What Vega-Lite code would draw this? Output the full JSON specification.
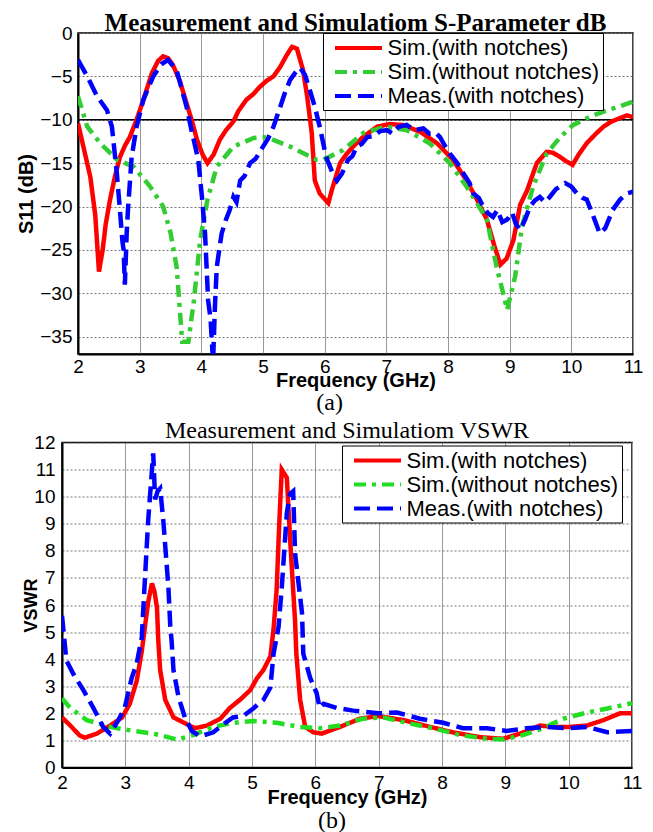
{
  "$schema": "https://vega.github.io/schema/vega-lite/v6.json",
  "padding": {"left": 15, "top": 10, "right": 0, "bottom": 0},
  "background": "white",
  "config": {
    "font": "Liberation Sans",
    "view": {"stroke": "black", "strokeWidth": 1.5},
    "axis": {
      "labelFont": "Liberation Sans", "labelFontSize": 19, "labelColor": "black",
      "titleFont": "Liberation Sans", "titleFontSize": 20, "titleFontWeight": "bold", "titleColor": "black",
      "domainColor": "black", "domainWidth": 2, "ticks": false,
      "gridColor": "#999999", "gridOpacity": 1, "gridWidth": 1, "labelFlush": false
    },
    "axisY": {"gridDash": [2, 2], "gridColor": "#777777"},
    "legend": {
      "orient": "none", "title": null,
      "labelFont": "Liberation Sans", "labelFontSize": 22, "labelColor": "black", "labelLimit": 400,
      "strokeColor": "black", "fillColor": "white", "padding": 3,
      "symbolType": "M-2.35,0H2.35", "symbolSize": 400, "symbolStrokeWidth": 4,
      "symbolOffset": 20.5, "labelOffset": 17, "rowPadding": 1
    }
  },
  "datasets": {
    "sparam": [
      {"s": "Sim.(with notches)", "f": 2.0, "v": -10.4},
      {"s": "Sim.(with notches)", "f": 2.1, "v": -13.5},
      {"s": "Sim.(with notches)", "f": 2.2, "v": -16.6},
      {"s": "Sim.(with notches)", "f": 2.28, "v": -21},
      {"s": "Sim.(with notches)", "f": 2.34, "v": -27.5},
      {"s": "Sim.(with notches)", "f": 2.4, "v": -25},
      {"s": "Sim.(with notches)", "f": 2.45, "v": -22},
      {"s": "Sim.(with notches)", "f": 2.52, "v": -19.2},
      {"s": "Sim.(with notches)", "f": 2.6, "v": -16.5},
      {"s": "Sim.(with notches)", "f": 2.68, "v": -14.3},
      {"s": "Sim.(with notches)", "f": 2.76, "v": -13},
      {"s": "Sim.(with notches)", "f": 2.84, "v": -12},
      {"s": "Sim.(with notches)", "f": 2.95, "v": -10},
      {"s": "Sim.(with notches)", "f": 3.06, "v": -7.7},
      {"s": "Sim.(with notches)", "f": 3.2, "v": -4.6},
      {"s": "Sim.(with notches)", "f": 3.3, "v": -3.2},
      {"s": "Sim.(with notches)", "f": 3.38, "v": -2.7},
      {"s": "Sim.(with notches)", "f": 3.46, "v": -2.9},
      {"s": "Sim.(with notches)", "f": 3.54, "v": -3.7},
      {"s": "Sim.(with notches)", "f": 3.65, "v": -5.5},
      {"s": "Sim.(with notches)", "f": 3.76, "v": -8.1},
      {"s": "Sim.(with notches)", "f": 3.85, "v": -10.2},
      {"s": "Sim.(with notches)", "f": 3.93, "v": -12.3},
      {"s": "Sim.(with notches)", "f": 4.02, "v": -14},
      {"s": "Sim.(with notches)", "f": 4.1, "v": -15},
      {"s": "Sim.(with notches)", "f": 4.2, "v": -14},
      {"s": "Sim.(with notches)", "f": 4.3, "v": -12.3},
      {"s": "Sim.(with notches)", "f": 4.4, "v": -11.2},
      {"s": "Sim.(with notches)", "f": 4.52, "v": -10.2},
      {"s": "Sim.(with notches)", "f": 4.6, "v": -9},
      {"s": "Sim.(with notches)", "f": 4.73, "v": -7.7},
      {"s": "Sim.(with notches)", "f": 4.85, "v": -7},
      {"s": "Sim.(with notches)", "f": 4.95, "v": -6.2},
      {"s": "Sim.(with notches)", "f": 5.06, "v": -5.5},
      {"s": "Sim.(with notches)", "f": 5.17, "v": -5},
      {"s": "Sim.(with notches)", "f": 5.28, "v": -3.9},
      {"s": "Sim.(with notches)", "f": 5.38, "v": -2.6},
      {"s": "Sim.(with notches)", "f": 5.47, "v": -1.6},
      {"s": "Sim.(with notches)", "f": 5.55, "v": -1.8},
      {"s": "Sim.(with notches)", "f": 5.65, "v": -4.3},
      {"s": "Sim.(with notches)", "f": 5.72, "v": -7.5},
      {"s": "Sim.(with notches)", "f": 5.79, "v": -11.5},
      {"s": "Sim.(with notches)", "f": 5.84, "v": -17},
      {"s": "Sim.(with notches)", "f": 5.92, "v": -18.5},
      {"s": "Sim.(with notches)", "f": 6.06, "v": -19.6},
      {"s": "Sim.(with notches)", "f": 6.12, "v": -18},
      {"s": "Sim.(with notches)", "f": 6.25, "v": -15},
      {"s": "Sim.(with notches)", "f": 6.35, "v": -14},
      {"s": "Sim.(with notches)", "f": 6.46, "v": -13.1},
      {"s": "Sim.(with notches)", "f": 6.62, "v": -12},
      {"s": "Sim.(with notches)", "f": 6.85, "v": -10.8},
      {"s": "Sim.(with notches)", "f": 7.05, "v": -10.5},
      {"s": "Sim.(with notches)", "f": 7.27, "v": -10.6},
      {"s": "Sim.(with notches)", "f": 7.55, "v": -11.4},
      {"s": "Sim.(with notches)", "f": 7.82, "v": -12.7},
      {"s": "Sim.(with notches)", "f": 8.08, "v": -14.6},
      {"s": "Sim.(with notches)", "f": 8.3, "v": -17},
      {"s": "Sim.(with notches)", "f": 8.47, "v": -19.2},
      {"s": "Sim.(with notches)", "f": 8.63, "v": -21.5},
      {"s": "Sim.(with notches)", "f": 8.75, "v": -24.5},
      {"s": "Sim.(with notches)", "f": 8.85, "v": -26.7},
      {"s": "Sim.(with notches)", "f": 8.95, "v": -26},
      {"s": "Sim.(with notches)", "f": 9.06, "v": -23.9},
      {"s": "Sim.(with notches)", "f": 9.17, "v": -19.8},
      {"s": "Sim.(with notches)", "f": 9.28, "v": -18.2},
      {"s": "Sim.(with notches)", "f": 9.44, "v": -15},
      {"s": "Sim.(with notches)", "f": 9.6, "v": -13.7},
      {"s": "Sim.(with notches)", "f": 9.7, "v": -13.8},
      {"s": "Sim.(with notches)", "f": 9.82, "v": -14.3},
      {"s": "Sim.(with notches)", "f": 9.92, "v": -14.8},
      {"s": "Sim.(with notches)", "f": 10.02, "v": -15.2},
      {"s": "Sim.(with notches)", "f": 10.12, "v": -14},
      {"s": "Sim.(with notches)", "f": 10.25, "v": -12.7},
      {"s": "Sim.(with notches)", "f": 10.4, "v": -11.6},
      {"s": "Sim.(with notches)", "f": 10.52, "v": -10.8},
      {"s": "Sim.(with notches)", "f": 10.65, "v": -10.2},
      {"s": "Sim.(with notches)", "f": 10.79, "v": -9.8},
      {"s": "Sim.(with notches)", "f": 10.9, "v": -9.5},
      {"s": "Sim.(with notches)", "f": 11.0, "v": -9.7},
      {"s": "Sim.(without notches)", "f": 2.0, "v": -7.3},
      {"s": "Sim.(without notches)", "f": 2.15, "v": -10.8},
      {"s": "Sim.(without notches)", "f": 2.36, "v": -12.7},
      {"s": "Sim.(without notches)", "f": 2.63, "v": -14.6},
      {"s": "Sim.(without notches)", "f": 2.9, "v": -15.4},
      {"s": "Sim.(without notches)", "f": 3.17, "v": -17.7},
      {"s": "Sim.(without notches)", "f": 3.38, "v": -20},
      {"s": "Sim.(without notches)", "f": 3.5, "v": -23},
      {"s": "Sim.(without notches)", "f": 3.6, "v": -27},
      {"s": "Sim.(without notches)", "f": 3.69, "v": -35.6},
      {"s": "Sim.(without notches)", "f": 3.79, "v": -35.6},
      {"s": "Sim.(without notches)", "f": 3.88, "v": -30.8},
      {"s": "Sim.(without notches)", "f": 3.98, "v": -23.9},
      {"s": "Sim.(without notches)", "f": 4.1, "v": -19.2},
      {"s": "Sim.(without notches)", "f": 4.25, "v": -15.4},
      {"s": "Sim.(without notches)", "f": 4.52, "v": -13.1},
      {"s": "Sim.(without notches)", "f": 4.85, "v": -12.1},
      {"s": "Sim.(without notches)", "f": 5.06, "v": -12},
      {"s": "Sim.(without notches)", "f": 5.44, "v": -13.1},
      {"s": "Sim.(without notches)", "f": 5.87, "v": -14.6},
      {"s": "Sim.(without notches)", "f": 5.98, "v": -14.6},
      {"s": "Sim.(without notches)", "f": 6.3, "v": -13.5},
      {"s": "Sim.(without notches)", "f": 6.63, "v": -11.5},
      {"s": "Sim.(without notches)", "f": 7.0, "v": -10.8},
      {"s": "Sim.(without notches)", "f": 7.33, "v": -11.2},
      {"s": "Sim.(without notches)", "f": 7.7, "v": -12.7},
      {"s": "Sim.(without notches)", "f": 8.03, "v": -15},
      {"s": "Sim.(without notches)", "f": 8.3, "v": -17.7},
      {"s": "Sim.(without notches)", "f": 8.47, "v": -19.6},
      {"s": "Sim.(without notches)", "f": 8.63, "v": -21.5},
      {"s": "Sim.(without notches)", "f": 8.79, "v": -27},
      {"s": "Sim.(without notches)", "f": 8.96, "v": -31.9},
      {"s": "Sim.(without notches)", "f": 9.09, "v": -28},
      {"s": "Sim.(without notches)", "f": 9.2, "v": -22.3},
      {"s": "Sim.(without notches)", "f": 9.38, "v": -17.7},
      {"s": "Sim.(without notches)", "f": 9.6, "v": -13.9},
      {"s": "Sim.(without notches)", "f": 9.82, "v": -12},
      {"s": "Sim.(without notches)", "f": 10.03, "v": -10.6},
      {"s": "Sim.(without notches)", "f": 10.35, "v": -9.5},
      {"s": "Sim.(without notches)", "f": 10.68, "v": -8.7},
      {"s": "Sim.(without notches)", "f": 11.0, "v": -7.9},
      {"s": "Meas.(with notches)", "f": 2.0, "v": -3.1},
      {"s": "Meas.(with notches)", "f": 2.15, "v": -5},
      {"s": "Meas.(with notches)", "f": 2.31, "v": -7.3},
      {"s": "Meas.(with notches)", "f": 2.47, "v": -8.9},
      {"s": "Meas.(with notches)", "f": 2.55, "v": -10.8},
      {"s": "Meas.(with notches)", "f": 2.63, "v": -16.2},
      {"s": "Meas.(with notches)", "f": 2.68, "v": -20.4},
      {"s": "Meas.(with notches)", "f": 2.72, "v": -24},
      {"s": "Meas.(with notches)", "f": 2.74, "v": -25},
      {"s": "Meas.(with notches)", "f": 2.76, "v": -29},
      {"s": "Meas.(with notches)", "f": 2.79, "v": -23},
      {"s": "Meas.(with notches)", "f": 2.81, "v": -20.4},
      {"s": "Meas.(with notches)", "f": 2.87, "v": -14.3},
      {"s": "Meas.(with notches)", "f": 2.95, "v": -10.8},
      {"s": "Meas.(with notches)", "f": 3.06, "v": -7.7},
      {"s": "Meas.(with notches)", "f": 3.22, "v": -5},
      {"s": "Meas.(with notches)", "f": 3.35, "v": -3.6},
      {"s": "Meas.(with notches)", "f": 3.46, "v": -3.1},
      {"s": "Meas.(with notches)", "f": 3.6, "v": -4.3},
      {"s": "Meas.(with notches)", "f": 3.76, "v": -8.5},
      {"s": "Meas.(with notches)", "f": 3.84, "v": -11.2},
      {"s": "Meas.(with notches)", "f": 3.95, "v": -14.6},
      {"s": "Meas.(with notches)", "f": 4.01, "v": -18.9},
      {"s": "Meas.(with notches)", "f": 4.06, "v": -23.1},
      {"s": "Meas.(with notches)", "f": 4.11, "v": -30.8},
      {"s": "Meas.(with notches)", "f": 4.15, "v": -33},
      {"s": "Meas.(with notches)", "f": 4.19, "v": -38},
      {"s": "Meas.(with notches)", "f": 4.22, "v": -31.6},
      {"s": "Meas.(with notches)", "f": 4.25, "v": -27},
      {"s": "Meas.(with notches)", "f": 4.3, "v": -24.5},
      {"s": "Meas.(with notches)", "f": 4.33, "v": -23.1},
      {"s": "Meas.(with notches)", "f": 4.4, "v": -21.5},
      {"s": "Meas.(with notches)", "f": 4.46, "v": -20.4},
      {"s": "Meas.(with notches)", "f": 4.52, "v": -18.9},
      {"s": "Meas.(with notches)", "f": 4.57, "v": -19.5},
      {"s": "Meas.(with notches)", "f": 4.63, "v": -17},
      {"s": "Meas.(with notches)", "f": 4.7, "v": -16.5},
      {"s": "Meas.(with notches)", "f": 4.79, "v": -15},
      {"s": "Meas.(with notches)", "f": 4.88, "v": -14.5},
      {"s": "Meas.(with notches)", "f": 5.0, "v": -13.1},
      {"s": "Meas.(with notches)", "f": 5.08, "v": -12.2},
      {"s": "Meas.(with notches)", "f": 5.17, "v": -10.8},
      {"s": "Meas.(with notches)", "f": 5.28, "v": -8.5},
      {"s": "Meas.(with notches)", "f": 5.36, "v": -6.8},
      {"s": "Meas.(with notches)", "f": 5.44, "v": -5.4},
      {"s": "Meas.(with notches)", "f": 5.52, "v": -4.6},
      {"s": "Meas.(with notches)", "f": 5.6, "v": -4.0},
      {"s": "Meas.(with notches)", "f": 5.68, "v": -4.8},
      {"s": "Meas.(with notches)", "f": 5.76, "v": -6.6},
      {"s": "Meas.(with notches)", "f": 5.84, "v": -8.5},
      {"s": "Meas.(with notches)", "f": 5.92, "v": -10.8},
      {"s": "Meas.(with notches)", "f": 6.0, "v": -13.5},
      {"s": "Meas.(with notches)", "f": 6.04, "v": -14.6},
      {"s": "Meas.(with notches)", "f": 6.12, "v": -16},
      {"s": "Meas.(with notches)", "f": 6.2, "v": -17},
      {"s": "Meas.(with notches)", "f": 6.28, "v": -16.2},
      {"s": "Meas.(with notches)", "f": 6.38, "v": -14.6},
      {"s": "Meas.(with notches)", "f": 6.45, "v": -14.2},
      {"s": "Meas.(with notches)", "f": 6.52, "v": -13.1},
      {"s": "Meas.(with notches)", "f": 6.6, "v": -12.8},
      {"s": "Meas.(with notches)", "f": 6.69, "v": -12},
      {"s": "Meas.(with notches)", "f": 6.8, "v": -11.9},
      {"s": "Meas.(with notches)", "f": 6.9, "v": -11.3},
      {"s": "Meas.(with notches)", "f": 7.01, "v": -11.2},
      {"s": "Meas.(with notches)", "f": 7.1, "v": -11.6},
      {"s": "Meas.(with notches)", "f": 7.2, "v": -10.8},
      {"s": "Meas.(with notches)", "f": 7.33, "v": -10.6},
      {"s": "Meas.(with notches)", "f": 7.45, "v": -11.2},
      {"s": "Meas.(with notches)", "f": 7.6, "v": -11},
      {"s": "Meas.(with notches)", "f": 7.7, "v": -11.6},
      {"s": "Meas.(with notches)", "f": 7.8, "v": -11.5},
      {"s": "Meas.(with notches)", "f": 7.87, "v": -12},
      {"s": "Meas.(with notches)", "f": 7.95, "v": -13},
      {"s": "Meas.(with notches)", "f": 8.03, "v": -13.9},
      {"s": "Meas.(with notches)", "f": 8.15, "v": -15},
      {"s": "Meas.(with notches)", "f": 8.25, "v": -16.2},
      {"s": "Meas.(with notches)", "f": 8.35, "v": -17.3},
      {"s": "Meas.(with notches)", "f": 8.41, "v": -18.5},
      {"s": "Meas.(with notches)", "f": 8.5, "v": -19},
      {"s": "Meas.(with notches)", "f": 8.57, "v": -20},
      {"s": "Meas.(with notches)", "f": 8.65, "v": -20.8},
      {"s": "Meas.(with notches)", "f": 8.73, "v": -21.2},
      {"s": "Meas.(with notches)", "f": 8.8, "v": -20.4},
      {"s": "Meas.(with notches)", "f": 8.88, "v": -21.8},
      {"s": "Meas.(with notches)", "f": 8.96, "v": -21.5},
      {"s": "Meas.(with notches)", "f": 9.04, "v": -20.7},
      {"s": "Meas.(with notches)", "f": 9.1, "v": -22},
      {"s": "Meas.(with notches)", "f": 9.17, "v": -22.7},
      {"s": "Meas.(with notches)", "f": 9.25, "v": -21.5},
      {"s": "Meas.(with notches)", "f": 9.33, "v": -20},
      {"s": "Meas.(with notches)", "f": 9.41, "v": -19.3},
      {"s": "Meas.(with notches)", "f": 9.49, "v": -18.9},
      {"s": "Meas.(with notches)", "f": 9.57, "v": -19.5},
      {"s": "Meas.(with notches)", "f": 9.65, "v": -18.9},
      {"s": "Meas.(with notches)", "f": 9.75, "v": -18},
      {"s": "Meas.(with notches)", "f": 9.9, "v": -17.3},
      {"s": "Meas.(with notches)", "f": 10.0, "v": -17.7},
      {"s": "Meas.(with notches)", "f": 10.09, "v": -18.5},
      {"s": "Meas.(with notches)", "f": 10.18, "v": -19},
      {"s": "Meas.(with notches)", "f": 10.25, "v": -19.2},
      {"s": "Meas.(with notches)", "f": 10.35, "v": -21},
      {"s": "Meas.(with notches)", "f": 10.46, "v": -23.1},
      {"s": "Meas.(with notches)", "f": 10.55, "v": -22.5},
      {"s": "Meas.(with notches)", "f": 10.67, "v": -20.4},
      {"s": "Meas.(with notches)", "f": 10.79, "v": -19.2},
      {"s": "Meas.(with notches)", "f": 10.9, "v": -18.5},
      {"s": "Meas.(with notches)", "f": 11.0, "v": -18.3}
    ],
    "vswr": [
      {"s": "Sim.(with notches)", "f": 2.0, "v": 1.85},
      {"s": "Sim.(with notches)", "f": 2.13, "v": 1.55},
      {"s": "Sim.(with notches)", "f": 2.28, "v": 1.18},
      {"s": "Sim.(with notches)", "f": 2.36, "v": 1.1},
      {"s": "Sim.(with notches)", "f": 2.55, "v": 1.25},
      {"s": "Sim.(with notches)", "f": 2.76, "v": 1.55},
      {"s": "Sim.(with notches)", "f": 2.95, "v": 1.85},
      {"s": "Sim.(with notches)", "f": 3.07, "v": 2.35},
      {"s": "Sim.(with notches)", "f": 3.18, "v": 3.2},
      {"s": "Sim.(with notches)", "f": 3.26, "v": 4.3},
      {"s": "Sim.(with notches)", "f": 3.31, "v": 5.2},
      {"s": "Sim.(with notches)", "f": 3.36, "v": 6.1},
      {"s": "Sim.(with notches)", "f": 3.42, "v": 6.8},
      {"s": "Sim.(with notches)", "f": 3.46, "v": 6.5},
      {"s": "Sim.(with notches)", "f": 3.5, "v": 5.9},
      {"s": "Sim.(with notches)", "f": 3.52, "v": 4.7},
      {"s": "Sim.(with notches)", "f": 3.55, "v": 3.6},
      {"s": "Sim.(with notches)", "f": 3.63, "v": 2.5},
      {"s": "Sim.(with notches)", "f": 3.76, "v": 1.85},
      {"s": "Sim.(with notches)", "f": 3.97, "v": 1.6},
      {"s": "Sim.(with notches)", "f": 4.1, "v": 1.45},
      {"s": "Sim.(with notches)", "f": 4.29, "v": 1.55},
      {"s": "Sim.(with notches)", "f": 4.5, "v": 1.8},
      {"s": "Sim.(with notches)", "f": 4.65, "v": 2.2},
      {"s": "Sim.(with notches)", "f": 4.81, "v": 2.5},
      {"s": "Sim.(with notches)", "f": 4.97, "v": 2.85},
      {"s": "Sim.(with notches)", "f": 5.08, "v": 3.3},
      {"s": "Sim.(with notches)", "f": 5.18, "v": 3.6},
      {"s": "Sim.(with notches)", "f": 5.29, "v": 4.1},
      {"s": "Sim.(with notches)", "f": 5.34, "v": 5.1},
      {"s": "Sim.(with notches)", "f": 5.39, "v": 6.6},
      {"s": "Sim.(with notches)", "f": 5.43, "v": 9},
      {"s": "Sim.(with notches)", "f": 5.47, "v": 11.0},
      {"s": "Sim.(with notches)", "f": 5.55, "v": 10.7},
      {"s": "Sim.(with notches)", "f": 5.6, "v": 8.5},
      {"s": "Sim.(with notches)", "f": 5.68, "v": 5.4},
      {"s": "Sim.(with notches)", "f": 5.7, "v": 4.2},
      {"s": "Sim.(with notches)", "f": 5.76, "v": 2.5},
      {"s": "Sim.(with notches)", "f": 5.84, "v": 1.5},
      {"s": "Sim.(with notches)", "f": 5.97, "v": 1.3},
      {"s": "Sim.(with notches)", "f": 6.1, "v": 1.25},
      {"s": "Sim.(with notches)", "f": 6.39, "v": 1.5},
      {"s": "Sim.(with notches)", "f": 6.7, "v": 1.8},
      {"s": "Sim.(with notches)", "f": 6.99, "v": 1.9},
      {"s": "Sim.(with notches)", "f": 7.39, "v": 1.75},
      {"s": "Sim.(with notches)", "f": 7.81, "v": 1.5},
      {"s": "Sim.(with notches)", "f": 8.17, "v": 1.3},
      {"s": "Sim.(with notches)", "f": 8.6, "v": 1.12},
      {"s": "Sim.(with notches)", "f": 8.96, "v": 1.06},
      {"s": "Sim.(with notches)", "f": 9.23, "v": 1.25},
      {"s": "Sim.(with notches)", "f": 9.55, "v": 1.55},
      {"s": "Sim.(with notches)", "f": 9.75, "v": 1.5},
      {"s": "Sim.(with notches)", "f": 10.02, "v": 1.5},
      {"s": "Sim.(with notches)", "f": 10.29, "v": 1.55},
      {"s": "Sim.(with notches)", "f": 10.55, "v": 1.75},
      {"s": "Sim.(with notches)", "f": 10.81, "v": 2.0},
      {"s": "Sim.(with notches)", "f": 11.0, "v": 2.0},
      {"s": "Sim.(without notches)", "f": 2.0, "v": 2.55},
      {"s": "Sim.(without notches)", "f": 2.13, "v": 2.2},
      {"s": "Sim.(without notches)", "f": 2.39, "v": 1.75},
      {"s": "Sim.(without notches)", "f": 2.76, "v": 1.5},
      {"s": "Sim.(without notches)", "f": 3.13, "v": 1.35},
      {"s": "Sim.(without notches)", "f": 3.45, "v": 1.25},
      {"s": "Sim.(without notches)", "f": 3.82, "v": 1.03},
      {"s": "Sim.(without notches)", "f": 4.07, "v": 1.2},
      {"s": "Sim.(without notches)", "f": 4.39, "v": 1.5},
      {"s": "Sim.(without notches)", "f": 4.7, "v": 1.65},
      {"s": "Sim.(without notches)", "f": 5.02, "v": 1.72},
      {"s": "Sim.(without notches)", "f": 5.39, "v": 1.65},
      {"s": "Sim.(without notches)", "f": 5.76, "v": 1.5},
      {"s": "Sim.(without notches)", "f": 6.07, "v": 1.45},
      {"s": "Sim.(without notches)", "f": 6.39, "v": 1.55},
      {"s": "Sim.(without notches)", "f": 6.75, "v": 1.8},
      {"s": "Sim.(without notches)", "f": 7.07, "v": 1.85},
      {"s": "Sim.(without notches)", "f": 7.44, "v": 1.65},
      {"s": "Sim.(without notches)", "f": 7.86, "v": 1.45},
      {"s": "Sim.(without notches)", "f": 8.28, "v": 1.2},
      {"s": "Sim.(without notches)", "f": 8.71, "v": 1.06},
      {"s": "Sim.(without notches)", "f": 8.96, "v": 1.03},
      {"s": "Sim.(without notches)", "f": 9.28, "v": 1.2},
      {"s": "Sim.(without notches)", "f": 9.6, "v": 1.45},
      {"s": "Sim.(without notches)", "f": 9.91, "v": 1.8},
      {"s": "Sim.(without notches)", "f": 10.29, "v": 2.03},
      {"s": "Sim.(without notches)", "f": 10.61, "v": 2.18},
      {"s": "Sim.(without notches)", "f": 11.0, "v": 2.37},
      {"s": "Meas.(with notches)", "f": 2.0, "v": 5.6},
      {"s": "Meas.(with notches)", "f": 2.07, "v": 3.95},
      {"s": "Meas.(with notches)", "f": 2.18, "v": 3.45},
      {"s": "Meas.(with notches)", "f": 2.34, "v": 2.85},
      {"s": "Meas.(with notches)", "f": 2.5, "v": 2.18},
      {"s": "Meas.(with notches)", "f": 2.65, "v": 1.5},
      {"s": "Meas.(with notches)", "f": 2.76, "v": 1.25},
      {"s": "Meas.(with notches)", "f": 2.89, "v": 1.75},
      {"s": "Meas.(with notches)", "f": 2.99, "v": 2.2},
      {"s": "Meas.(with notches)", "f": 3.1, "v": 3.3},
      {"s": "Meas.(with notches)", "f": 3.18, "v": 3.85},
      {"s": "Meas.(with notches)", "f": 3.26, "v": 4.8},
      {"s": "Meas.(with notches)", "f": 3.28, "v": 5.7},
      {"s": "Meas.(with notches)", "f": 3.36, "v": 9.1},
      {"s": "Meas.(with notches)", "f": 3.44, "v": 11.6},
      {"s": "Meas.(with notches)", "f": 3.47, "v": 9.9},
      {"s": "Meas.(with notches)", "f": 3.51, "v": 10.2},
      {"s": "Meas.(with notches)", "f": 3.55, "v": 10.3},
      {"s": "Meas.(with notches)", "f": 3.6, "v": 9.1},
      {"s": "Meas.(with notches)", "f": 3.68, "v": 6.65},
      {"s": "Meas.(with notches)", "f": 3.71, "v": 5.2},
      {"s": "Meas.(with notches)", "f": 3.73, "v": 4.7},
      {"s": "Meas.(with notches)", "f": 3.76, "v": 3.6},
      {"s": "Meas.(with notches)", "f": 3.84, "v": 2.6},
      {"s": "Meas.(with notches)", "f": 3.94, "v": 1.85},
      {"s": "Meas.(with notches)", "f": 4.05, "v": 1.35},
      {"s": "Meas.(with notches)", "f": 4.18, "v": 1.15},
      {"s": "Meas.(with notches)", "f": 4.39, "v": 1.3},
      {"s": "Meas.(with notches)", "f": 4.55, "v": 1.6},
      {"s": "Meas.(with notches)", "f": 4.7, "v": 1.85},
      {"s": "Meas.(with notches)", "f": 4.86, "v": 1.9},
      {"s": "Meas.(with notches)", "f": 5.02, "v": 2.18},
      {"s": "Meas.(with notches)", "f": 5.18, "v": 2.5},
      {"s": "Meas.(with notches)", "f": 5.29, "v": 2.95},
      {"s": "Meas.(with notches)", "f": 5.34, "v": 4.2},
      {"s": "Meas.(with notches)", "f": 5.42, "v": 5.2},
      {"s": "Meas.(with notches)", "f": 5.47, "v": 6.65},
      {"s": "Meas.(with notches)", "f": 5.55, "v": 9.4},
      {"s": "Meas.(with notches)", "f": 5.6, "v": 10.1},
      {"s": "Meas.(with notches)", "f": 5.65, "v": 10.2},
      {"s": "Meas.(with notches)", "f": 5.68, "v": 7.9},
      {"s": "Meas.(with notches)", "f": 5.73, "v": 6.9},
      {"s": "Meas.(with notches)", "f": 5.79, "v": 5.7},
      {"s": "Meas.(with notches)", "f": 5.81, "v": 4.2},
      {"s": "Meas.(with notches)", "f": 5.92, "v": 3.3},
      {"s": "Meas.(with notches)", "f": 6.02, "v": 2.75},
      {"s": "Meas.(with notches)", "f": 6.07, "v": 2.2},
      {"s": "Meas.(with notches)", "f": 6.13, "v": 2.35},
      {"s": "Meas.(with notches)", "f": 6.34, "v": 2.2},
      {"s": "Meas.(with notches)", "f": 6.6, "v": 2.1},
      {"s": "Meas.(with notches)", "f": 6.99, "v": 2.0},
      {"s": "Meas.(with notches)", "f": 7.29, "v": 2.03},
      {"s": "Meas.(with notches)", "f": 7.65, "v": 1.8},
      {"s": "Meas.(with notches)", "f": 8.02, "v": 1.65},
      {"s": "Meas.(with notches)", "f": 8.33, "v": 1.45},
      {"s": "Meas.(with notches)", "f": 8.71, "v": 1.45},
      {"s": "Meas.(with notches)", "f": 9.02, "v": 1.35},
      {"s": "Meas.(with notches)", "f": 9.34, "v": 1.45},
      {"s": "Meas.(with notches)", "f": 9.66, "v": 1.5},
      {"s": "Meas.(with notches)", "f": 9.97, "v": 1.45},
      {"s": "Meas.(with notches)", "f": 10.29, "v": 1.5},
      {"s": "Meas.(with notches)", "f": 10.61, "v": 1.3},
      {"s": "Meas.(with notches)", "f": 11.0, "v": 1.35}
    ],
    "ref": [{"v": -10}],
    "none": []
  },
  "vconcat": [
    {
      "title": {"text": "(a)", "orient": "bottom", "font": "Liberation Serif", "fontSize": 24, "fontWeight": "normal", "color": "black", "anchor": "middle", "offset": 0},
      "bounds": "flush",
      "spacing": 15,
      "hconcat": [
        {
          "width": 1,
          "height": 1,
          "view": {"stroke": null},
          "data": {"name": "none"},
          "mark": "point"
        },
        {
          "width": 555,
          "height": 321,
          "title": {"text": "Measurement and Simulatiom S-Parameter dB", "font": "Liberation Serif", "fontSize": 25, "fontWeight": "bold", "color": "black", "anchor": "middle", "frame": "group", "offset": -12},
          "layer": [
            {
              "data": {"name": "ref"},
              "mark": {"type": "rule", "color": "black", "strokeWidth": 1.5},
              "encoding": {"y": {"field": "v", "type": "quantitative"}}
            },
            {
              "data": {"name": "sparam"},
              "mark": {"type": "line", "strokeWidth": 4.5, "clip": true},
              "encoding": {
                "x": {"field": "f", "type": "quantitative", "title": "Frequency (GHz)",
                      "scale": {"domain": [2, 11], "nice": false},
                      "axis": {"values": [2, 3, 4, 5, 6, 7, 8, 9, 10, 11], "labelPadding": 3, "titlePadding": -6}},
                "y": {"field": "v", "type": "quantitative", "title": "S11 (dB)",
                      "scale": {"domain": [-37, 0], "nice": false},
                      "axis": {"values": [0, -5, -10, -15, -20, -25, -30, -35], "labelPadding": 6, "titlePadding": 3.5}},
                "color": {"field": "s", "type": "nominal",
                          "scale": {"domain": ["Sim.(with notches)", "Sim.(without notches)", "Meas.(with notches)"], "range": ["#ff0000", "#33cc33", "#0000ff"]},
                          "legend": {"legendX": 261, "legendY": 0}},
                "strokeDash": {"field": "s", "type": "nominal",
                          "scale": {"domain": ["Sim.(with notches)", "Sim.(without notches)", "Meas.(with notches)"], "range": [[1, 0], [12, 6, 4, 6], [16, 7]]},
                          "legend": {"legendX": 261, "legendY": 0}}
              }
            }
          ]
        }
      ]
    },
    {
      "title": {"text": "(b)", "orient": "bottom", "font": "Liberation Serif", "fontSize": 24, "fontWeight": "normal", "color": "black", "anchor": "middle", "offset": 1},
      "vconcat": [
        {
          "width": 570,
          "height": 325,
          "title": {"text": "Measurement and Simulatiom VSWR", "font": "Liberation Serif", "fontSize": 24, "fontWeight": "normal", "color": "black", "anchor": "middle", "frame": "group", "offset": -9.5},
          "data": {"name": "vswr"},
          "mark": {"type": "line", "strokeWidth": 4.5, "clip": true},
          "encoding": {
            "x": {"field": "f", "type": "quantitative", "title": "Frequency (GHz)",
                  "scale": {"domain": [2, 11], "nice": false},
                  "axis": {"values": [2, 3, 4, 5, 6, 7, 8, 9, 10, 11], "labelPadding": 5.6, "titlePadding": -5}},
            "y": {"field": "v", "type": "quantitative", "title": "VSWR",
                  "scale": {"domain": [0, 12], "nice": false},
                  "axis": {"values": [0, 1, 2, 3, 4, 5, 6, 7, 8, 9, 10, 11, 12], "labelPadding": 7, "titlePadding": -6.3, "titleFontSize": 18}},
            "color": {"field": "s", "type": "nominal",
                      "scale": {"domain": ["Sim.(with notches)", "Sim.(without notches)", "Meas.(with notches)"], "range": ["#ff0000", "#22dd22", "#0000ff"]},
                      "legend": {"legendX": 280, "legendY": 3}},
            "strokeDash": {"field": "s", "type": "nominal",
                      "scale": {"domain": ["Sim.(with notches)", "Sim.(without notches)", "Meas.(with notches)"], "range": [[1, 0], [12, 6, 4, 6], [16, 7]]},
                      "legend": {"legendX": 280, "legendY": 3}}
          }
        }
      ]
    }
  ],
  "spacing": 2.5,
  "resolve": {"scale": {"color": "independent", "strokeDash": "independent", "x": "independent", "y": "independent"}}
}
